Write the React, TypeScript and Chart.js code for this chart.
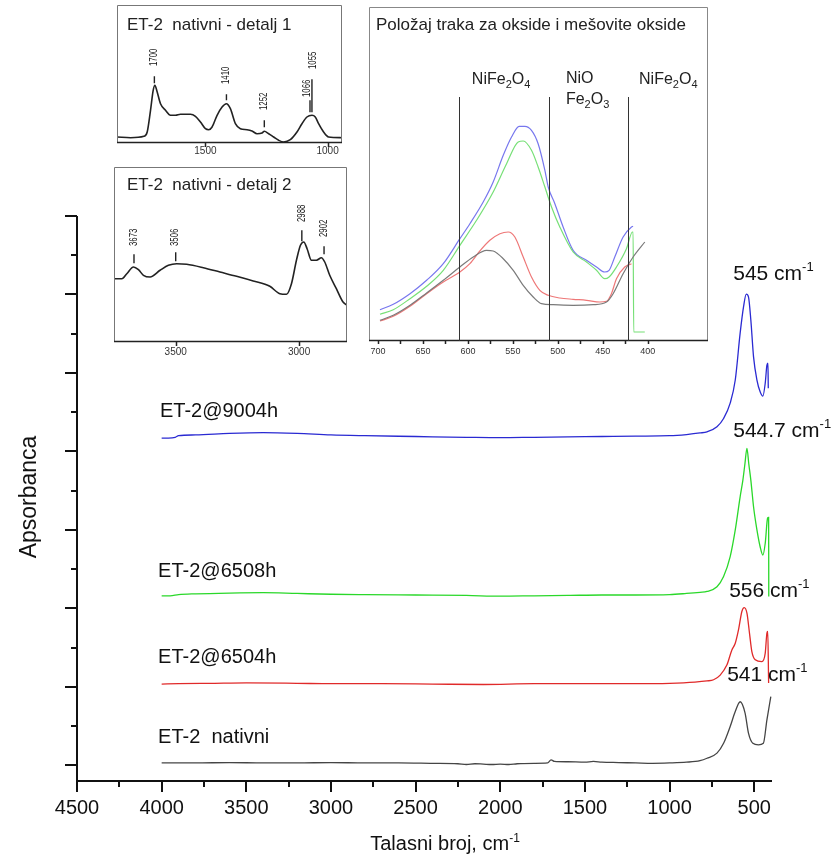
import React, { useEffect, useRef } from "react";
import { Chart, registerables } from "chart.js";
Chart.register(...registerables);

const FONT = "'Liberation Sans', Arial, Helvetica, sans-serif";

// ---------------- main spectra (wavenumber cm-1, absorbance a.u.) ----------------
const wn9004 = [4000, 3960, 3920, 3900, 3800, 3600, 3400, 3200, 3000, 2800, 2500, 2200, 2000, 1800, 1600, 1400, 1200, 1000, 900, 820, 779, 720, 681, 642, 612, 583, 563, 547, 534, 520, 504, 484, 465, 449, 435, 425, 419, 417];
const abs9004 = [8.34, 8.34, 8.36, 8.40, 8.42, 8.46, 8.48, 8.46, 8.42, 8.40, 8.38, 8.36, 8.35, 8.36, 8.37, 8.38, 8.39, 8.40, 8.43, 8.47, 8.50, 8.63, 8.84, 9.23, 9.82, 11.02, 11.69, 12.01, 11.94, 11.35, 10.41, 9.82, 9.52, 9.41, 9.74, 10.20, 10.25, 9.61];

const wn6508 = [4000, 3950, 3900, 3800, 3600, 3400, 3200, 3000, 2800, 2500, 2200, 2000, 1800, 1600, 1400, 1200, 1000, 900, 820, 779, 720, 681, 642, 612, 583, 567, 555, 543, 532, 520, 504, 484, 465, 449, 435, 421, 415, 414];
const abs6508 = [4.32, 4.32, 4.35, 4.37, 4.39, 4.40, 4.38, 4.36, 4.35, 4.34, 4.33, 4.31, 4.32, 4.33, 4.34, 4.34, 4.35, 4.38, 4.41, 4.43, 4.55, 4.81, 5.32, 6.0, 6.85, 7.27, 7.68, 8.08, 7.68, 7.27, 6.59, 6.0, 5.57, 5.36, 5.66, 6.30, 6.32, 4.30];

const wn6504 = [4000, 3900, 3700, 3500, 3200, 3000, 2700, 2400, 2100, 1800, 1500, 1200, 1000, 850, 779, 740, 701, 661, 632, 612, 593, 573, 559, 543, 528, 514, 494, 455, 435, 425, 420, 415];
const abs6504 = [2.07, 2.08, 2.09, 2.10, 2.09, 2.08, 2.08, 2.07, 2.06, 2.08, 2.08, 2.08, 2.09, 2.12, 2.15, 2.18, 2.30, 2.56, 2.94, 3.11, 3.45, 3.92, 4.02, 3.88, 3.37, 2.90, 2.69, 2.64, 2.86, 3.37, 3.41, 2.10];

const wnNative = [4000, 3800, 3600, 3400, 3200, 3000, 2800, 2600, 2400, 2250, 2200, 2150, 2100, 2050, 2000, 1950, 1900, 1800, 1720, 1700, 1680, 1600, 1500, 1450, 1400, 1300, 1200, 1100, 1000, 900, 820, 779, 720, 681, 642, 612, 583, 554, 534, 508, 475, 446, 425, 402];
const absNative = [0.06, 0.06, 0.07, 0.06, 0.06, 0.07, 0.06, 0.06, 0.05, 0.04, 0.02, 0.04, 0.03, 0.02, 0.03, 0.02, 0.04, 0.05, 0.06, 0.14, 0.10, 0.09, 0.08, 0.10, 0.08, 0.07, 0.06, 0.05, 0.06, 0.08, 0.12, 0.18, 0.31, 0.56, 0.99, 1.37, 1.62, 1.33, 0.82, 0.56, 0.52, 0.56, 1.16, 1.75];

const xTickValues = [4500, 4250, 4000, 3750, 3500, 3250, 3000, 2750, 2500, 2250, 2000, 1750, 1500, 1250, 1000, 750, 500];
const yTickValues = [0, 1, 2, 3, 4, 5, 6, 7, 8, 9, 10, 11, 12, 13, 14];

const seriesLabels = ["ET-2@9004h", "ET-2@6508h", "ET-2@6504h", "ET-2  nativni"];
const seriesLabelWn = [4010, 4021, 4021, 4021];
const seriesLabelAbs = [9.03, 4.95, 2.76, 0.70];

const peakLabels = ["545", "544.7", "556", "541"];
const peakLabelWn = [624, 624, 648, 660];
const peakLabelAbs = [12.57, 8.55, 4.49, 2.33];

// ---------------- inset 1: detalj 1 ----------------
const wnDet1 = [1861, 1806.5, 1752, 1738.4, 1724.8, 1713.9, 1707, 1697.5, 1683.9, 1663.5, 1643, 1622.6, 1602.2, 1561.3, 1540.9, 1520.4, 1500, 1486.4, 1472.8, 1452.3, 1431.9, 1414.2, 1397.8, 1377.4, 1357, 1329.7, 1309.3, 1288.8, 1268.4, 1258.9, 1241.1, 1220.7, 1200.3, 1179.8, 1152.6, 1125.3, 1104.9, 1084.5, 1064, 1050.4, 1036.8, 1016.4, 995.9, 941.4];
const absDet1 = [6.0, 5.3, 6.7, 11, 32.7, 52.7, 57.7, 51, 39.3, 32.7, 27.7, 27.7, 28.7, 28.7, 26.7, 21, 14.3, 13.3, 16, 27.7, 36, 39.3, 34.3, 19.3, 14.3, 13.3, 12, 9.3, 10, 11.7, 9.3, 6, 2.7, 1, 3.3, 11, 19.3, 26, 27.7, 26, 19.3, 11, 6, 5.3];
const det1Labels = ["1700", "1410", "1252", "1066", "1055"];
const det1LabelWn = [1709, 1414, 1259, 1083, 1057];
const det1LabelAbs = [85.7, 67.7, 41.7, 54.7, 82.7];
const det1TickWn = [1709, 1414, 1259, 1072, 1064];
const det1TickTop = [66.7, 48.7, 22.7, 42.7, 63.7];
const det1TickBottom = [59.7, 42.7, 15.7, 30.7, 30.7];
const det1AxisTicks = [1500, 1000];

// ---------------- inset 2: detalj 2 ----------------
const wnDet2 = [3765.5, 3718.3, 3698.1, 3671.2, 3650.9, 3630.7, 3603.8, 3563.3, 3529.6, 3496, 3455.5, 3388.1, 3320.8, 3253.4, 3186, 3118.6, 3078.2, 3051.2, 3031, 3010.8, 2994.6, 2981.1, 2967.7, 2950.1, 2929.9, 2909.7, 2896.2, 2876, 2849.1, 2822.1, 2805.9];
const absDet2 = [63.3, 63.3, 68.3, 75, 72.3, 66.7, 65, 71.7, 76.7, 78.3, 77.7, 74.3, 70, 65.7, 61, 55.7, 48.3, 47.7, 58.3, 81.7, 96.7, 100, 93.3, 81.7, 81.7, 84.3, 80, 66.7, 53.3, 40, 36.7];
const det2Labels = ["3673", "3506", "2988", "2902"];
const det2Wn = [3669, 3500, 2989, 2899];
const det2LabelAbs = [104.7, 104.7, 128.7, 113.7];
const det2TickTop = [87.7, 89.7, 111.7, 95.7];
const det2TickBottom = [78.7, 80.7, 100.7, 87.7];
const det2AxisTicks = [3500, 3000];

// ---------------- inset 3: oxide bands ----------------
const wnOxBlue = [697.8, 683.0, 664.4, 645.9, 627.4, 608.9, 597.8, 583.0, 571.9, 560.7, 551.5, 543.0, 536.7, 529.3, 521.9, 514.4, 510.7, 503.3, 494.1, 483.0, 468.1, 457.0, 447.8, 443.0, 436.7, 427.4, 418.1, 416.3];
const absOxBlue = [31.3, 36.7, 47.3, 60.7, 77.3, 102.3, 117.3, 139, 159, 185.7, 204, 214.7, 214.7, 210.7, 197.3, 170.7, 154, 137.3, 114, 90.7, 80.7, 74, 69, 70.7, 84, 104, 114, 114.7];
const wnOxGreen = [697.8, 683.0, 664.4, 645.9, 627.4, 608.9, 590.4, 571.9, 557.0, 544.1, 538.5, 529.3, 521.9, 514.4, 507.0, 497.8, 483.0, 468.1, 457.0, 447.8, 443.0, 434.8, 423.7, 417.0, 416.3, 415.6, 403.3];
const absOxGreen = [26.7, 31.3, 42.3, 54.7, 70.7, 95.7, 120.7, 149, 177.3, 199, 200, 190.7, 174, 154, 134, 114, 89, 79, 70.7, 62.3, 64, 74, 92.3, 109, 109, 9, 9];
const wnOxRed = [697.8, 683.0, 664.4, 645.9, 627.4, 608.9, 597.8, 586.7, 575.6, 564.4, 555.2, 547.8, 538.5, 529.3, 520.0, 510.7, 497.8, 483.0, 468.1, 453.3, 445.9, 440.4, 434.8, 425.6, 418.1];
const absOxRed = [20, 24.7, 34.7, 47.3, 59, 69, 77.3, 90, 100.7, 107.3, 109, 104, 84, 64, 50.7, 45.7, 43, 41.7, 40.7, 39, 39.7, 47.3, 62.3, 74, 77.3];
const wnOxBlack = [697.8, 683.0, 664.4, 645.9, 627.4, 608.9, 594.1, 579.3, 571.9, 560.7, 549.6, 538.5, 527.4, 518.1, 505.2, 483.0, 460.7, 445.9, 438.5, 427.4, 416.3, 403.3];
const absOxBlack = [20.7, 25.7, 35.7, 48, 60.7, 74, 84, 90.7, 90, 82.3, 70.7, 55.7, 44, 37.3, 36.3, 35.7, 36.3, 39, 47.3, 67.3, 84, 99];
const oxBandLines = [610, 510, 422];
const oxBandLineTop = 244;
const oxAxisLabels = [700, 650, 600, 550, 500, 450, 400];
const oxAxisTicks = [700, 675, 650, 625, 600, 575, 550, 525, 500, 475, 450, 425, 400];

const pts = (xs: number[], ys: number[]) => xs.map((x, i) => ({ x, y: ys[i] }));

type Part = [string, number, number]; // text, size, dy
function drawRich(ctx: CanvasRenderingContext2D, x: number, y: number, parts: Part[], color = "#111") {
  ctx.save();
  ctx.fillStyle = color;
  ctx.textAlign = "left";
  ctx.textBaseline = "alphabetic";
  let cx = x;
  for (const [t, s, dy] of parts) {
    ctx.font = `${s}px ${FONT}`;
    ctx.fillText(t, cx, y + dy);
    cx += ctx.measureText(t).width;
  }
  ctx.restore();
}
function richWidth(ctx: CanvasRenderingContext2D, parts: Part[]) {
  let w = 0;
  ctx.save();
  for (const [t, s] of parts) {
    ctx.font = `${s}px ${FONT}`;
    w += ctx.measureText(t).width;
  }
  ctx.restore();
  return w;
}

const mainPlugin = {
  id: "mainDecor",
  afterDraw(chart: any) {
    const { ctx, chartArea: a } = chart;
    const x = chart.scales.x;
    const y = chart.scales.y;
    ctx.save();
    ctx.strokeStyle = "#111";
    ctx.lineWidth = 2;
    ctx.beginPath();
    ctx.moveTo(a.left, a.top);
    ctx.lineTo(a.left, a.bottom);
    ctx.lineTo(a.right, a.bottom);
    for (const t of xTickValues) {
      const px = Math.round(x.getPixelForValue(t));
      const major = t % 500 === 0;
      ctx.moveTo(px, a.bottom);
      ctx.lineTo(px, a.bottom + (major ? 11 : 6));
    }
    for (const t of yTickValues) {
      const py = Math.round(y.getPixelForValue(t));
      const major = t % 2 === 0;
      ctx.moveTo(a.left, py);
      ctx.lineTo(a.left - (major ? 12 : 6), py);
    }
    ctx.stroke();

    ctx.fillStyle = "#111";
    ctx.font = `20px ${FONT}`;
    ctx.textAlign = "center";
    ctx.textBaseline = "middle";
    for (const t of xTickValues) {
      if (t % 500 !== 0) continue;
      ctx.fillText(String(t), x.getPixelForValue(t), a.bottom + 27);
    }

    // axis titles
    const tParts: Part[] = [["Talasni broj, cm", 20, 0], ["-1", 12, -8]];
    const tw = richWidth(ctx, tParts);
    drawRich(ctx, 445 - tw / 2, 850, tParts);
    ctx.save();
    ctx.translate(30, 497);
    ctx.rotate(-Math.PI / 2);
    ctx.font = `23px ${FONT}`;
    ctx.textAlign = "center";
    ctx.textBaseline = "middle";
    ctx.fillStyle = "#111";
    ctx.fillText("Apsorbanca", 0, 0);
    ctx.restore();

    // series labels
    ctx.font = `20px ${FONT}`;
    ctx.textAlign = "left";
    ctx.textBaseline = "middle";
    seriesLabels.forEach((s, i) => {
      ctx.fillText(s, x.getPixelForValue(seriesLabelWn[i]), y.getPixelForValue(seriesLabelAbs[i]));
    });
    // peak labels
    peakLabels.forEach((s, i) => {
      const px = x.getPixelForValue(peakLabelWn[i]);
      const py = y.getPixelForValue(peakLabelAbs[i]) + 7.5;
      drawRich(ctx, px, py, [[s + " cm", 21, 0], ["-1", 13, -9]]);
    });
    ctx.restore();
  },
};

const lineDs = (data: any, color: string, w = 1.3) => ({
  data,
  borderColor: color,
  borderWidth: w,
  pointRadius: 0,
  fill: false,
  cubicInterpolationMode: "monotone",
});

function insetConfig(o: {
  xMin: number; xMax: number; yMax: number; labelH: number; datasets: any[];
  decorate: (chart: any) => void;
}) {
  return {
    type: "line",
    data: { datasets: o.datasets },
    options: {
      animation: false,
      responsive: false,
      devicePixelRatio: 1,
      layout: { padding: 0 },
      plugins: { legend: { display: false }, tooltip: { enabled: false } },
      scales: {
        x: {
          type: "linear", reverse: true, min: o.xMin, max: o.xMax,
          grid: { display: false }, border: { display: false }, ticks: { display: false },
          afterFit: (s: any) => { s.height = o.labelH; },
        },
        y: { type: "linear", min: 0, max: o.yMax, display: false },
      },
    },
    plugins: [
      {
        id: "insetBg",
        beforeDraw(chart: any) {
          const c = chart.ctx;
          c.save();
          c.fillStyle = "#fff";
          c.fillRect(0, 0, chart.width, chart.height);
          c.restore();
        },
        afterDraw(chart: any) { o.decorate(chart); },
      },
    ],
  };
}

function rotLabel(ctx: CanvasRenderingContext2D, text: string, x: number, y: number, size: number) {
  ctx.save();
  ctx.translate(x, y);
  ctx.rotate(-Math.PI / 2);
  ctx.scale(0.78, 1);
  ctx.font = `${size}px ${FONT}`;
  ctx.textAlign = "center";
  ctx.textBaseline = "middle";
  ctx.fillStyle = "#111";
  ctx.fillText(text, 0, 0);
  ctx.restore();
}

function boxAndAxis(chart: any, borderColor: string, ticks: number[], tickLen: (v: number) => number, labels: number[], labelSize: number, labelDy: number) {
  const { ctx, chartArea: a } = chart;
  const x = chart.scales.x;
  ctx.save();
  ctx.strokeStyle = borderColor;
  ctx.lineWidth = 1;
  ctx.beginPath();
  ctx.moveTo(a.left + 0.5, a.bottom);
  ctx.lineTo(a.left + 0.5, a.top + 0.5);
  ctx.lineTo(a.right - 0.5, a.top + 0.5);
  ctx.lineTo(a.right - 0.5, a.bottom);
  ctx.stroke();
  ctx.strokeStyle = "#222";
  ctx.lineWidth = 1.5;
  ctx.beginPath();
  ctx.moveTo(a.left, a.bottom - 0.5);
  ctx.lineTo(a.right, a.bottom - 0.5);
  for (const t of ticks) {
    const px = Math.round(x.getPixelForValue(t)) + 0.5;
    ctx.moveTo(px, a.bottom);
    ctx.lineTo(px, a.bottom + tickLen(t));
  }
  ctx.stroke();
  ctx.fillStyle = "#333";
  ctx.font = `${labelSize}px ${FONT}`;
  ctx.textAlign = "center";
  ctx.textBaseline = "middle";
  for (const l of labels) ctx.fillText(String(l), x.getPixelForValue(l), a.bottom + labelDy);
  ctx.restore();
}

function title(chart: any, text: string, dx: number, cy: number, size: number) {
  const { ctx, chartArea: a } = chart;
  ctx.save();
  ctx.font = `${size}px ${FONT}`;
  ctx.fillStyle = "#222";
  ctx.textAlign = "left";
  ctx.textBaseline = "middle";
  ctx.fillText(text, a.left + dx, a.top + cy);
  ctx.restore();
}

const det1Config = () => insetConfig({
  xMin: 941, xMax: 1862, yMax: 138, labelH: 17,
  datasets: [lineDs(pts(wnDet1, absDet1), "#222", 1.6)],
  decorate(chart) {
    const { ctx } = chart;
    const x = chart.scales.x, y = chart.scales.y;
    boxAndAxis(chart, "#777", det1AxisTicks, () => 4, det1AxisTicks, 10, 8);
    title(chart, "ET-2  nativni - detalj 1", 10, 20, 17);
    det1Labels.forEach((s, i) => rotLabel(ctx, s, x.getPixelForValue(det1LabelWn[i]), y.getPixelForValue(det1LabelAbs[i]), 10));
    ctx.save();
    ctx.strokeStyle = "#222";
    ctx.lineWidth = 1.4;
    ctx.beginPath();
    det1TickWn.forEach((w, i) => {
      const px = x.getPixelForValue(w);
      ctx.moveTo(px, y.getPixelForValue(det1TickTop[i]));
      ctx.lineTo(px, y.getPixelForValue(det1TickBottom[i]));
    });
    ctx.stroke();
    ctx.restore();
  },
});

const det2Config = () => insetConfig({
  xMin: 2806, xMax: 3750, yMax: 175, labelH: 18,
  datasets: [lineDs(pts(wnDet2, absDet2), "#222", 1.6)],
  decorate(chart) {
    const { ctx } = chart;
    const x = chart.scales.x, y = chart.scales.y;
    boxAndAxis(chart, "#777", det2AxisTicks, () => 4, det2AxisTicks, 10, 10);
    title(chart, "ET-2  nativni - detalj 2", 13, 18, 17);
    det2Labels.forEach((s, i) => rotLabel(ctx, s, x.getPixelForValue(det2Wn[i]), y.getPixelForValue(det2LabelAbs[i]), 10));
    ctx.save();
    ctx.strokeStyle = "#222";
    ctx.lineWidth = 1.4;
    ctx.beginPath();
    det2Wn.forEach((w, i) => {
      const px = x.getPixelForValue(w);
      ctx.moveTo(px, y.getPixelForValue(det2TickTop[i]));
      ctx.lineTo(px, y.getPixelForValue(det2TickBottom[i]));
    });
    ctx.stroke();
    ctx.restore();
  },
});

const oxConfig = () => insetConfig({
  xMin: 333, xMax: 710, yMax: 334, labelH: 20,
  datasets: [
    lineDs(pts(wnOxBlack, absOxBlack), "#7a7a7a", 1.2),
    lineDs(pts(wnOxRed, absOxRed), "#ee7777", 1.2),
    lineDs(pts(wnOxGreen, absOxGreen), "#77e077", 1.2),
    lineDs(pts(wnOxBlue, absOxBlue), "#7777ee", 1.2),
  ],
  decorate(chart) {
    const { ctx } = chart;
    const x = chart.scales.x, y = chart.scales.y;
    boxAndAxis(chart, "#888", oxAxisTicks, () => 3, oxAxisLabels, 9, 11);
    title(chart, "Položaj traka za okside i mešovite okside", 7, 18, 17);
    ctx.save();
    ctx.strokeStyle = "#333";
    ctx.lineWidth = 1;
    ctx.beginPath();
    for (const w of oxBandLines) {
      const px = Math.round(x.getPixelForValue(w)) + 0.5;
      ctx.moveTo(px, y.getPixelForValue(oxBandLineTop));
      ctx.lineTo(px, y.getPixelForValue(0));
    }
    ctx.stroke();
    ctx.restore();
    const base1 = y.getPixelForValue(256.7);
    drawRich(ctx, x.getPixelForValue(595.6), base1, [["NiFe", 16, 0], ["2", 11, 4], ["O", 16, 0], ["4", 11, 4]], "#222");
    drawRich(ctx, x.getPixelForValue(491), y.getPixelForValue(257.7), [["NiO", 16, 0]], "#222");
    drawRich(ctx, x.getPixelForValue(491), y.getPixelForValue(236.7), [["Fe", 16, 0], ["2", 11, 4], ["O", 16, 0], ["3", 11, 4]], "#222");
    drawRich(ctx, x.getPixelForValue(409.7), base1, [["NiFe", 16, 0], ["2", 11, 4], ["O", 16, 0], ["4", 11, 4]], "#222");
  },
});

function Inset(props: { left: number; top: number; width: number; height: number; build: () => any }) {
  const ref = useRef<HTMLCanvasElement>(null);
  useEffect(() => {
    const c = new Chart(ref.current as HTMLCanvasElement, props.build());
    return () => c.destroy();
  }, []);
  return (
    <canvas
      ref={ref}
      width={props.width}
      height={props.height}
      style={{ position: "absolute", left: props.left, top: props.top, width: props.width, height: props.height }}
    />
  );
}

export default function App() {
  const ref = useRef<HTMLCanvasElement>(null);
  useEffect(() => {
    const chart = new Chart(ref.current as HTMLCanvasElement, {
      type: "line",
      data: {
        datasets: [
          lineDs(pts(wnNative, absNative), "#454545"),
          lineDs(pts(wn6504, abs6504), "#e02a2a"),
          lineDs(pts(wn6508, abs6508), "#2ad82a"),
          lineDs(pts(wn9004, abs9004), "#2a2ad2"),
        ] as any,
      },
      options: {
        animation: false,
        responsive: false,
        devicePixelRatio: 1,
        layout: { padding: { top: 216, right: 66, left: 0, bottom: 0 } },
        plugins: { legend: { display: false }, tooltip: { enabled: false } },
        scales: {
          x: {
            type: "linear", reverse: true, min: 395, max: 4500,
            grid: { display: false }, border: { display: false }, ticks: { display: false },
            afterBuildTicks: (s: any) => { s.ticks = xTickValues.map((v) => ({ value: v })); },
            afterFit: (s: any) => { s.height = 80; },
          },
          y: {
            type: "linear", min: -0.4, max: 14,
            grid: { display: false }, border: { display: false }, ticks: { display: false },
            afterBuildTicks: (s: any) => { s.ticks = yTickValues.map((v) => ({ value: v })); },
            afterFit: (s: any) => { s.width = 77; },
          },
        },
      } as any,
      plugins: [mainPlugin],
    });
    return () => chart.destroy();
  }, []);
  return (
    <div style={{ position: "absolute", left: 0, top: 0, width: 838, height: 861, background: "#fff" }}>
      <canvas ref={ref} width={838} height={861} style={{ position: "absolute", left: 0, top: 0, width: 838, height: 861 }} />
      <Inset left={117} top={5} width={225} height={155} build={det1Config} />
      <Inset left={114} top={167} width={233} height={193} build={det2Config} />
      <Inset left={369} top={7} width={339} height={354} build={oxConfig} />
    </div>
  );
}
